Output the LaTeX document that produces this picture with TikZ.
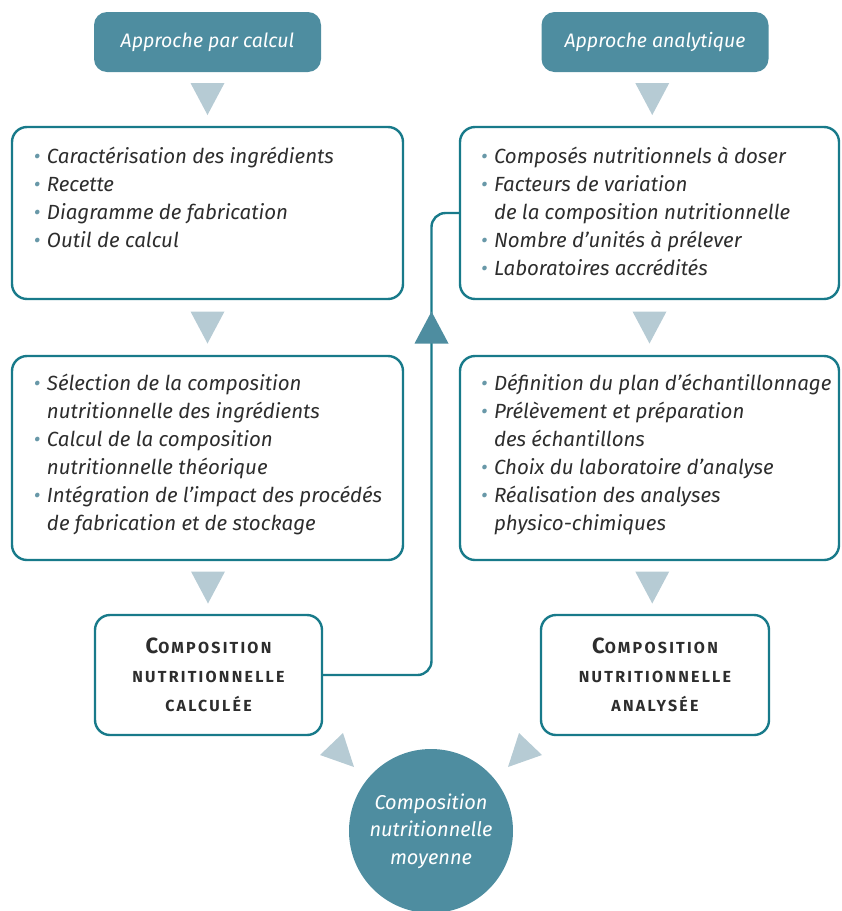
\documentclass[tikz,border=0pt]{standalone}
\usepackage{fontspec}
\setmainfont{Fira Sans}
\usepackage{tikz}
\usetikzlibrary{positioning,calc}

\definecolor{canard}{RGB}{24,122,138}
\definecolor{bleu}{RGB}{78,141,160}
\definecolor{clair}{RGB}{182,203,212}
\definecolor{pucec}{RGB}{104,152,168}
\definecolor{encre}{RGB}{45,45,45}

\newcommand{\pce}{\strut\makebox[13pt][l]{\textcolor{pucec}{\textbullet}}}
\newcommand{\ind}{\strut\hspace*{13pt}}
\newcommand{\petcap}[1]{{\fontsize{16}{29}\selectfont\addfontfeature{LetterSpace=14}#1}}
\newcommand{\grdcap}[1]{{\fontsize{22}{29}\selectfont\addfontfeature{LetterSpace=10}#1}}
\newcommand{\descente}[1]{\fill[clair] (#1) +(-17,-16) -- +(17,-16) -- +(0,16) -- cycle;}

\begin{document}
\begin{tikzpicture}[x=1pt,y=-1pt,
    pastille/.style={fill=bleu,rounded corners=13pt,minimum width=227,minimum height=60,
      text=white,font=\fontsize{19.5}{28}\selectfont\itshape},
    boite/.style={draw=canard,line width=2.4pt,rounded corners=15pt},
    liste/.style={anchor=north west,inner sep=0pt,align=left,text=encre,
      font=\fontsize{20.5}{28}\selectfont\itshape},
    titre/.style={align=center,text=encre,font=\fontsize{16}{29}\selectfont\bfseries},
    lien/.style={draw=canard,line width=2.4pt,rounded corners=14pt},
    rond/.style={circle,fill=bleu,minimum size=164,align=center,text=white,
      font=\fontsize{20}{27.5}\selectfont\itshape}]
    \useasboundingbox (0,0) rectangle (842,911);

    % approches
    \node[pastille] (pc) at (207.5,42) {Approche par calcul};
    \node[pastille] (pa) at (655,42) {Approche analytique};

    % 1st row
    \node[boite,minimum width=391,minimum height=172] (l1) at (207.5,213) {};
    \node[boite,minimum width=379,minimum height=172] (r1) at (649.5,213) {};
    \node[liste] (tl1) at ($(l1.north west)+(23,18)$)
        {\pce Caractérisation des ingrédients\\
         \pce Recette\\
         \pce Diagramme de fabrication\\
         \pce Outil de calcul};
    \node[liste] (tr1) at ($(r1.north west)+(22,18)$)
        {\pce Composés nutritionnels à doser\\
         \pce Facteurs de variation\\
         \ind de la composition nutritionnelle\\
         \pce Nombre d’unités à prélever\\
         \pce Laboratoires accrédités};

    % 2nd row
    \node[boite,minimum width=391,minimum height=204] (l2) at (207.5,458) {};
    \node[boite,minimum width=379,minimum height=204] (r2) at (649.5,458) {};
    \node[liste] (tl2) at ($(l2.north west)+(23,16)$)
        {\pce Sélection de la composition\\
         \ind nutritionnelle des ingrédients\\
         \pce Calcul de la composition\\
         \ind nutritionnelle théorique\\
         \pce Intégration de l’impact des procédés\\
         \ind de fabrication et de stockage};
    \node[liste] (tr2) at ($(r2.north west)+(22,16)$)
        {\pce Définition du plan d’échantillonnage\\
         \pce Prélèvement et préparation\\
         \ind des échantillons\\
         \pce Choix du laboratoire d’analyse\\
         \pce Réalisation des analyses\\
         \ind physico-chimiques};

    % 3rd row
    \node[boite,minimum width=227,minimum height=120,titre] (l3) at (208.5,675)
        {\grdcap{C}\petcap{OMPOSITION}\\\petcap{NUTRITIONNELLE}\\\petcap{CALCULÉE}};
    \node[boite,minimum width=228,minimum height=120,titre] (r3) at (655,675)
        {\grdcap{C}\petcap{OMPOSITION}\\\petcap{NUTRITIONNELLE}\\\petcap{ANALYSÉE}};

    % result
    \node[rond] (moy) at (431,831) {Composition\\nutritionnelle\\moyenne};

    % arrows between levels
    \descente{$(pc.south)!0.5!(l1.north)$}
    \descente{$(pa.south)!0.5!(r1.north)$}
    \descente{$(l1.south)!0.5!(l2.north)$}
    \descente{$(r1.south)!0.5!(r2.north)$}
    \descente{$(l2.south)!0.5!(l3.north)$}
    \descente{$(r2.south)!0.5!(r3.north)$}
    \fill[clair,shift={(moy.center)}] (-111,-76) -- (-88,-98) -- (-77,-64) -- cycle;
    \fill[clair,shift={(moy.center)}] (111,-76) -- (88,-98) -- (77,-64) -- cycle;

    % feedback line
    \coordinate (mil) at ($(l2.east)!0.5!(r2.west)$);
    \coordinate (coin) at (mil |- r1.west);
    \coordinate (pointe) at ($(mil |- l1.south)!0.5!(mil |- l2.north)$);
    \draw[lien] (l3.east) -| (coin) -- (r1.west);
    \fill[bleu] (pointe) +(0,-16) -- +(17,16) -- +(-17,16) -- cycle;
\end{tikzpicture}
\end{document}
